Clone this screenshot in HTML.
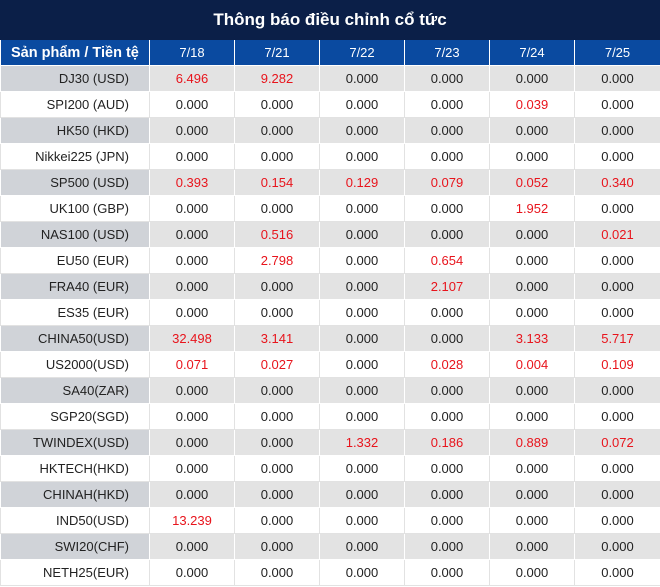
<!DOCTYPE html>
<html><head><meta charset="utf-8"><style>
body{margin:0;width:660px;height:587px;overflow:hidden;background:#fff;font-family:"Liberation Sans","DejaVu Sans",sans-serif}
.title{height:40px;background:#0b1f48;color:#fff;font-weight:bold;font-size:17px;text-align:center;line-height:40px}
table{border-collapse:collapse;table-layout:fixed;width:660px}
td,th{height:25px;padding:0;font-size:13px;text-align:center;border:1px solid #e2e2e2;color:#222}
th{background:#0a4aa0;color:#fff;font-weight:normal;border:1px solid #fff;border-top:none}
th.f{font-weight:bold;text-align:left;padding-left:10px;font-size:14.5px;white-space:nowrap}
td.f{text-align:right;padding-right:20px}
tr.g td{background:#e3e3e3;border-color:#fff}
tr.g td.f{background:#d0d3d8}
.r{color:#e8141c}
</style></head><body>
<div class="title">Thông báo điều chỉnh cổ tức</div>
<table>
<colgroup><col style="width:149px"><col style="width:85px"><col style="width:85px"><col style="width:85px"><col style="width:85px"><col style="width:85px"><col style="width:86px"></colgroup>
<thead><tr><th class="f">Sản phẩm / Tiền tệ</th><th>7/18</th><th>7/21</th><th>7/22</th><th>7/23</th><th>7/24</th><th>7/25</th></tr></thead>
<tbody id="tb"></tbody></table>
<script>
const products=["DJ30 (USD)","SPI200 (AUD)","HK50 (HKD)","Nikkei225 (JPN)","SP500 (USD)","UK100 (GBP)","NAS100 (USD)","EU50 (EUR)","FRA40 (EUR)","ES35 (EUR)","CHINA50(USD)","US2000(USD)","SA40(ZAR)","SGP20(SGD)","TWINDEX(USD)","HKTECH(HKD)","CHINAH(HKD)","IND50(USD)","SWI20(CHF)","NETH25(EUR)"];
const values=[
[6.496,9.282,0,0,0,0],[0,0,0,0,0.039,0],[0,0,0,0,0,0],[0,0,0,0,0,0],
[0.393,0.154,0.129,0.079,0.052,0.340],[0,0,0,0,1.952,0],[0,0.516,0,0,0,0.021],
[0,2.798,0,0.654,0,0],[0,0,0,2.107,0,0],[0,0,0,0,0,0],
[32.498,3.141,0,0,3.133,5.717],[0.071,0.027,0,0.028,0.004,0.109],
[0,0,0,0,0,0],[0,0,0,0,0,0],[0,0,1.332,0.186,0.889,0.072],
[0,0,0,0,0,0],[0,0,0,0,0,0],[13.239,0,0,0,0,0],[0,0,0,0,0,0],[0,0,0,0,0,0]];
const tb=document.getElementById('tb');
products.forEach((p,i)=>{
 const tr=document.createElement('tr');
 
 
 if(i%2==0)tr.className='g';
 const td=document.createElement('td');td.className='f';td.textContent=p;
 
 
 tr.appendChild(td);
 values[i].forEach(v=>{
  const c=document.createElement('td');c.textContent=v.toFixed(3);
  if(v>0)c.className='r';
  
  
  tr.appendChild(c);
 });
 tb.appendChild(tr);
});
</script>
</body></html>
